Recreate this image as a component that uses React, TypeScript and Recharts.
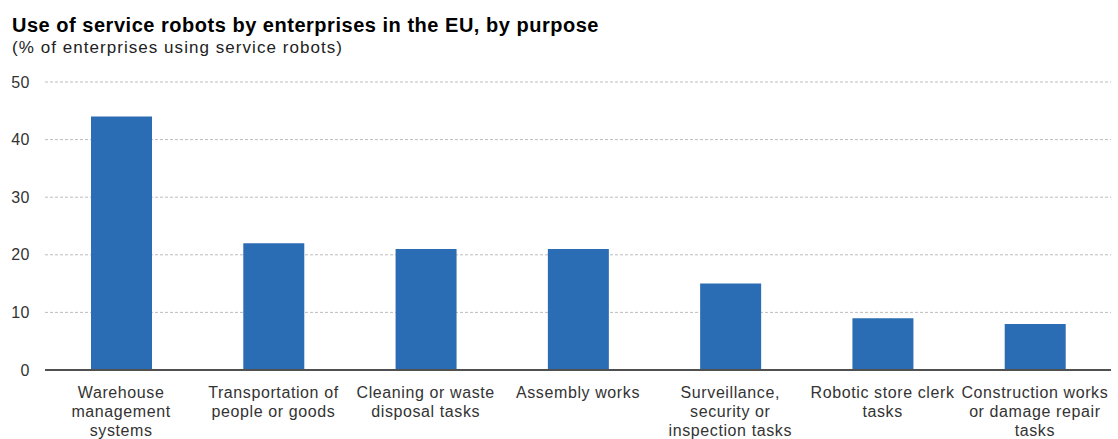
import React from "react";
import { BarChart, Bar, XAxis, YAxis, CartesianGrid } from "recharts";

const categories = [
  "Warehouse\nmanagement\nsystems",
  "Transportation of\npeople or goods",
  "Cleaning or waste\ndisposal tasks",
  "Assembly works",
  "Surveillance,\nsecurity or\ninspection tasks",
  "Robotic store clerk\ntasks",
  "Construction works\nor damage repair\ntasks",
];
const values = [44, 22, 21, 21, 15, 9, 8];
const yTicks = [0, 10, 20, 30, 40, 50];

const data = categories.map((c, i) => ({ name: c, value: values[i] }));

const FONT = "'Liberation Sans', Arial, sans-serif";

const XTick = (props: any) => {
  const { x, y, payload } = props;
  const lines = String(payload.value).split("\n");
  return (
    <text x={x} y={y} textAnchor="middle" fill="#333" fontSize={16} letterSpacing={0.6} fontFamily={FONT}>
      {lines.map((l: string, i: number) => (
        <tspan key={i} x={x} y={y + 19.5 + i * 19}>
          {l}
        </tspan>
      ))}
    </text>
  );
};

export default function App() {
  return (
    <div style={{ position: "absolute", left: 0, top: 0, width: 1118, height: 439, background: "#fff", fontFamily: FONT, overflow: "hidden" }}>
      <div style={{ position: "absolute", left: 12, top: 15, fontSize: 20, lineHeight: "20px", fontWeight: "bold", color: "#000", whiteSpace: "nowrap", letterSpacing: 0.52 }}>
        Use of service robots by enterprises in the EU, by purpose
      </div>
      <div style={{ position: "absolute", left: 12, top: 38.5, fontSize: 17, lineHeight: "17px", color: "#222", whiteSpace: "nowrap", letterSpacing: 1.05 }}>
        (% of enterprises using service robots)
      </div>
      <BarChart
        width={1118}
        height={439}
        data={data}
        margin={{ top: 82, right: 7, left: 0, bottom: 0 }}
      >
        <CartesianGrid vertical={false} stroke="#bdbdbd" strokeDasharray="3 2" />
        <YAxis
          width={45}
          domain={[0, 50]}
          ticks={yTicks}
          axisLine={false}
          tickLine={false}
          tickSize={0}
          tickMargin={15}
          tick={{ fill: "#333", fontSize: 16, fontFamily: FONT, letterSpacing: 0.5 }}
          interval={0}
        />
        <XAxis
          dataKey="name"
          height={69}
          tickLine={false}
          axisLine={{ stroke: "#505050", strokeWidth: 2 }}
          tick={<XTick />}
          interval={0}
        />
        <Bar dataKey="value" fill="#2a6db4" barSize={61} isAnimationActive={false} />
      </BarChart>
    </div>
  );
}
